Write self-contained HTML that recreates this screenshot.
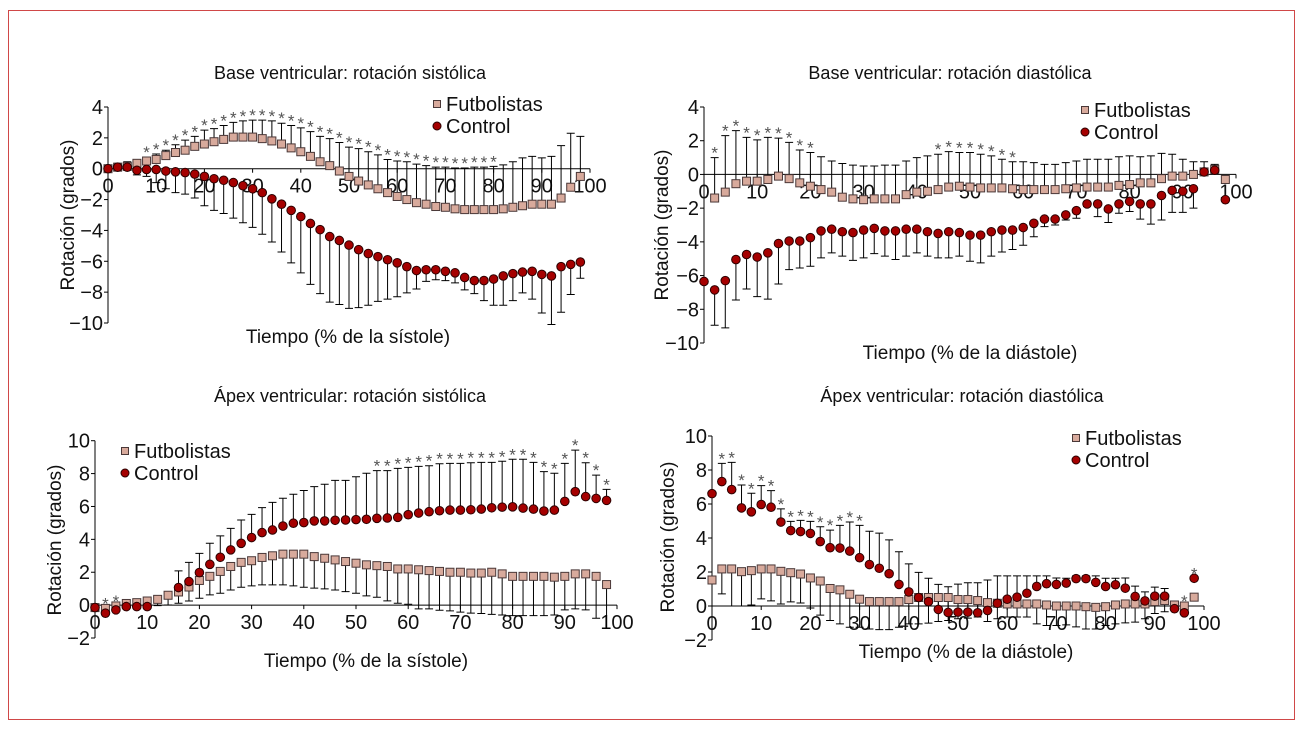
<!DOCTYPE html>
<html><head><meta charset="utf-8">
<style>
html,body{margin:0;padding:0;background:#fff;}
svg{display:block;font-family:"Liberation Sans Narrow","Liberation Sans",sans-serif;}
</style></head>
<body>
<svg id="chart" width="1303" height="730" viewBox="0 0 1303 730">
<rect x="8.5" y="10.5" width="1286" height="709" fill="#fff" stroke="#d04848" stroke-width="1"/>
</svg>
<script>
// shared x categories (% of cycle)
const xCats = [];
for (let i = 0; i < 50; i++) xCats.push(i * 2);
const xTickVals = [0,10,20,30,40,50,60,70,80,90,100];

// Panel 1: Base sistólica
const p1FutMean = [0,0.1,0.15,0.35,0.5,0.6,0.85,1.05,1.2,1.45,1.6,1.75,1.9,2.05,2.05,2.05,1.95,1.8,1.6,1.35,1.1,0.8,0.45,0.2,-0.15,-0.5,-0.8,-1.05,-1.3,-1.55,-1.8,-2.0,-2.2,-2.3,-2.45,-2.5,-2.6,-2.65,-2.65,-2.65,-2.65,-2.6,-2.5,-2.4,-2.3,-2.3,-2.3,-1.9,-1.2,-0.5];
const p1FutErr = [0.2,0.35,0.45,0.5,0.75,0.95,1.2,1.55,1.85,2.1,2.5,2.6,2.8,3.0,3.1,3.15,3.15,3.1,2.95,2.8,2.65,2.4,2.1,1.95,1.7,1.4,1.3,1.1,0.9,0.6,0.5,0.45,0.3,0.2,0.1,0.1,0.05,0.05,0.1,0.1,0.15,0.25,0.45,0.7,0.8,0.7,0.8,1.5,2.3,2.1];
const p1CtlMean = [0,0.1,0.1,-0.1,-0.05,-0.05,-0.15,-0.2,-0.25,-0.35,-0.5,-0.65,-0.75,-0.9,-1.1,-1.3,-1.55,-1.95,-2.3,-2.7,-3.1,-3.55,-3.95,-4.4,-4.65,-4.95,-5.25,-5.5,-5.7,-5.9,-6.1,-6.35,-6.6,-6.55,-6.55,-6.65,-6.75,-7.05,-7.25,-7.25,-7.15,-6.95,-6.8,-6.7,-6.65,-6.85,-6.95,-6.35,-6.2,-6.05];
const p1CtlErr = [null,null,null,-0.4,-0.5,-0.9,-1.3,-1.55,-1.65,-1.9,-2.4,-2.7,-2.9,-3.2,-3.5,-3.8,-4.25,-4.75,-5.4,-6.1,-6.75,-7.5,-8.1,-8.65,-8.8,-9.05,-9.0,-8.85,-8.6,-8.45,-8.3,-8.05,-7.8,-7.3,-7.2,-7.25,-7.4,-7.85,-8.1,-8.55,-8.85,-8.85,-8.55,-8.05,-8.45,-9.35,-10.1,-9.3,-8.15,-7.1];
const p1Stars = [4,5,6,7,8,9,10,11,12,13,14,15,16,17,18,19,20,21,22,23,24,25,26,27,28,29,30,31,32,33,34,35,36,37,38,39,40];
const p1YTicks = [4,2,0,-2,-4,-6,-8,-10];

// Panel 2: Base diastólica
const p2FutMean = [null,-1.4,-1.05,-0.55,-0.4,-0.4,-0.3,-0.1,-0.25,-0.5,-0.7,-0.9,-1.05,-1.35,-1.45,-1.5,-1.45,-1.45,-1.45,-1.2,-1.05,-1.0,-0.9,-0.75,-0.7,-0.75,-0.8,-0.8,-0.8,-0.85,-0.9,-0.9,-0.9,-0.9,-0.85,-0.8,-0.75,-0.75,-0.75,-0.65,-0.6,-0.5,-0.5,-0.25,-0.1,-0.1,0,0.15,0.3,-0.3];
const p2FutErr = [null,1.0,2.3,2.6,2.2,2.05,2.2,2.15,1.9,1.45,1.3,1.05,0.8,0.65,0.55,0.5,0.5,0.55,0.55,0.8,1.0,1.1,1.2,1.35,1.3,1.3,1.2,1.1,0.9,0.75,0.75,0.7,0.6,0.6,0.7,0.8,0.9,0.9,0.9,1.05,1.1,1.05,1.1,1.25,1.2,0.9,0.75,0.75,0.6,null];
const p2CtlMean = [-6.35,-6.85,-6.3,-5.05,-4.75,-4.9,-4.65,-4.1,-3.95,-3.95,-3.75,-3.35,-3.25,-3.4,-3.45,-3.3,-3.2,-3.35,-3.35,-3.25,-3.25,-3.4,-3.5,-3.4,-3.45,-3.6,-3.6,-3.4,-3.3,-3.3,-3.15,-2.9,-2.65,-2.65,-2.4,-2.15,-1.75,-1.75,-2.05,-1.75,-1.6,-1.75,-1.75,-1.25,-0.95,-1.0,-0.85,0.15,0.25,-1.5];
const p2CtlErr = [null,-8.95,-9.1,-7.45,-6.8,-7.25,-7.4,-6.5,-5.65,-5.55,-5.45,-4.95,-4.65,-4.85,-5.1,-4.95,-4.7,-4.85,-5.05,-4.85,-4.65,-4.85,-4.95,-4.95,-4.85,-5.15,-5.25,-4.85,-4.6,-4.45,-4.2,-3.7,-3.1,-3.0,-2.7,-2.6,-1.9,-2.5,-2.85,-2.3,-2.2,-2.65,-2.95,-2.7,-2.25,-2.25,-2.0,null,null,null];
const p2Stars = [1,2,3,4,5,6,7,8,9,10,22,23,24,25,26,27,28,29];
const p2YTicks = [4,2,0,-2,-4,-6,-8,-10];

// Panel 3: Ápex sistólica
const p3FutMean = [-0.15,-0.2,-0.05,0.1,0.15,0.25,0.35,0.6,0.8,1.1,1.5,1.75,2.05,2.35,2.6,2.7,2.9,3.0,3.1,3.1,3.1,2.95,2.85,2.75,2.65,2.55,2.45,2.4,2.35,2.2,2.2,2.15,2.1,2.05,2.0,2.0,1.95,1.95,2.0,1.9,1.75,1.75,1.75,1.75,1.7,1.75,1.9,1.9,1.75,1.25];
const p3FutErr = [null,null,null,null,null,null,-0.03,0.01,0.11,0.25,0.42,0.62,0.72,0.92,1.09,1.17,1.23,1.23,1.23,1.17,1.09,1.03,0.99,0.92,0.82,0.72,0.56,0.48,0.26,0.11,0.05,-0.23,-0.23,-0.31,-0.35,-0.43,-0.49,-0.51,-0.56,-0.6,-0.64,-0.64,-0.64,-0.64,-0.6,-0.29,-0.23,-0.29,-0.8,-1.41];
const p3CtlMean = [-0.15,-0.49,-0.29,-0.09,-0.09,-0.09,null,null,1.07,1.43,1.98,2.48,2.91,3.36,3.76,4.11,4.41,4.57,4.81,4.98,5.02,5.12,5.12,5.16,5.18,5.2,5.22,5.28,5.3,5.34,5.5,5.6,5.68,5.74,5.78,5.78,5.8,5.84,5.92,5.96,5.98,5.9,5.84,5.72,5.78,6.31,6.9,6.6,6.49,6.37];
const p3CtlErr = [null,null,null,null,null,null,null,null,2.08,2.6,3.15,3.76,4.21,4.67,5.18,5.52,5.93,6.25,6.5,6.74,6.97,7.21,7.35,7.59,7.59,7.81,8.02,8.18,8.18,8.32,8.38,8.44,8.48,8.6,8.62,8.62,8.66,8.68,8.68,8.75,8.87,8.87,8.68,8.12,8.02,8.62,9.43,8.66,7.91,7.04];
const p3Stars = [1,2,27,28,29,30,31,32,33,34,35,36,37,38,39,40,41,42,43,44,45,46,47,48,49];
const p3YTicks = [10,8,6,4,2,0,-2];

// Panel 4: Ápex diastólica
const p4FutMean = [1.53,2.18,2.18,2.02,2.08,2.18,2.18,2.04,1.96,1.88,1.65,1.47,1.03,0.95,0.69,0.4,0.26,0.26,0.26,0.26,0.38,0.5,0.5,0.5,0.5,0.38,0.38,0.32,0.2,0.16,0.12,0.12,0.12,0.12,0.06,0,0,0,-0.04,-0.08,-0.04,0.06,0.12,0.12,0.12,0.26,0.32,0.06,0,0.52];
const p4FutErr = [null,0.71,0,0,0.06,0.42,0.3,0.12,0.24,0.18,-0.12,-0.54,-0.85,-1.05,-1.25,-1.25,-1.35,-1.39,-1.39,-1.25,-1.05,-1.05,-1.01,-0.91,-0.85,-0.75,-0.71,-0.65,-0.91,-0.75,-0.65,-0.65,-0.65,-1.05,-1.15,-1.15,-1.11,-1.23,-1.35,-1.35,-1.15,-1.05,-0.99,-0.95,-0.75,-0.44,-0.34,-0.24,-0.04,null];
const p4CtlMean = [6.61,7.32,6.85,5.77,5.54,5.97,5.81,4.94,4.44,4.38,4.27,3.79,3.43,3.41,3.23,2.84,2.44,2.22,1.9,1.27,0.83,0.5,0.26,-0.2,-0.38,-0.36,-0.36,-0.4,-0.26,0.16,0.4,0.52,0.75,1.15,1.31,1.27,1.35,1.61,1.61,1.39,1.15,1.25,1.05,0.56,0.3,0.58,0.58,-0.16,-0.4,1.63];
const p4CtlErr = [null,8.39,8.45,7.12,6.63,7.08,6.79,5.71,4.98,5.04,4.98,4.66,4.46,4.74,4.94,4.74,4.4,4.29,3.89,3.19,2.48,1.98,1.63,1.27,1.13,1.29,1.37,1.37,1.53,1.77,1.77,1.77,1.77,1.77,1.77,1.65,1.63,1.77,1.77,1.77,1.63,1.63,1.65,1.17,0.83,1.11,1.03,null,null,null];
const p4Stars = [1,2,3,4,5,6,7,8,9,10,11,12,13,14,15,48,49];
const p4YTicks = [10,8,6,4,2,0,-2];

const NS = 'http://www.w3.org/2000/svg';
const svg = document.getElementById('chart');
function mk(tag, attrs, parent, txt) {
  const e = document.createElementNS(NS, tag);
  for (const k in attrs) e.setAttribute(k, attrs[k]);
  if (txt !== undefined) e.textContent = txt;
  parent.appendChild(e);
  return e;
}
function fmt(v) { return v < 0 ? '\u2212' + Math.abs(v) : String(v); }

const panels = [
  {id:'base-sistolica', title:'Base ventricular: rotación sistólica', xlabel:'Tiempo (% de la sístole)',
   x0:108, x1:590, vTop:4, yTop:107, vBot:-10, yBot:323, titleX:350, titleY:79, xlabX:348, xlabY:343,
   ylabX:74, ylabY:215, legX:437, legY:104, yTicks:p1YTicks,
   fm:p1FutMean, fe:p1FutErr, cm:p1CtlMean, ce:p1CtlErr, stars:p1Stars},
  {id:'base-diastolica', title:'Base ventricular: rotación diastólica', xlabel:'Tiempo (% de la diástole)',
   x0:704, x1:1236, vTop:4, yTop:107, vBot:-10, yBot:343, titleX:950, titleY:79, xlabX:970, xlabY:359,
   ylabX:668, ylabY:225, legX:1085, legY:110, yTicks:p2YTicks,
   fm:p2FutMean, fe:p2FutErr, cm:p2CtlMean, ce:p2CtlErr, stars:p2Stars},
  {id:'apex-sistolica', title:'Ápex ventricular: rotación sistólica', xlabel:'Tiempo (% de la sístole)',
   x0:95, x1:617, vTop:10, yTop:440.7, vBot:-2, yBot:638, titleX:350, titleY:402, xlabX:366, xlabY:667,
   ylabX:61, ylabY:540, legX:125, legY:451, yTicks:p3YTicks,
   fm:p3FutMean, fe:p3FutErr, cm:p3CtlMean, ce:p3CtlErr, stars:p3Stars},
  {id:'apex-diastolica', title:'Ápex ventricular: rotación diastólica', xlabel:'Tiempo (% de la diástole)',
   x0:712, x1:1204, vTop:10, yTop:436, vBot:-2, yBot:640, titleX:962, titleY:402, xlabX:966, xlabY:658,
   ylabX:674, ylabY:537, legX:1076, legY:438, yTicks:p4YTicks,
   fm:p4FutMean, fe:p4FutErr, cm:p4CtlMean, ce:p4CtlErr, stars:p4Stars}
];

const FUT_FILL = '#d8aa9c', FUT_STROKE = '#4a3838', CTL_FILL = '#a50000', CTL_STROKE = '#2a0000';

panels.forEach(p => {
  const g = mk('g', {}, svg);
  
  
  const X = v => p.x0 + (v / 100) * (p.x1 - p.x0);
  const Y = v => p.yTop + (p.vTop - v) / (p.vTop - p.vBot) * (p.yBot - p.yTop);

  const t = mk('text', {x:p.titleX, y:p.titleY, 'text-anchor':'middle', 'font-size':18, fill:'#111'}, g, p.title);
  
  

  // y axis
  const ya = mk('line', {x1:p.x0, x2:p.x0, y1:Y(p.vTop), y2:Y(p.vBot), stroke:'#000', 'stroke-width':1}, g);
  
  
  p.yTicks.forEach(v => {
    mk('line', {x1:p.x0 - 4, x2:p.x0, y1:Y(v), y2:Y(v), stroke:'#000'}, g);
    const tl = mk('text', {x:p.x0 - 5, y:Y(v) + 7, 'text-anchor':'end', 'font-size':20, fill:'#111'}, g, fmt(v));
    
    
  });
  // x axis
  const xa = mk('line', {x1:p.x0, x2:p.x1, y1:Y(0), y2:Y(0), stroke:'#000', 'stroke-width':1}, g);
  
  
  xTickVals.forEach(v => {
    mk('line', {x1:X(v), x2:X(v), y1:Y(0), y2:Y(0) + 4, stroke:'#000'}, g);
    const tl = mk('text', {x:X(v), y:Y(0) + 24, 'text-anchor':'middle', 'font-size':20, fill:'#111'}, g, String(v));
    
    
  });
  const xl = mk('text', {x:p.xlabX, y:p.xlabY, 'text-anchor':'middle', 'font-size':19, fill:'#111'}, g, p.xlabel);
  
  
  const yl = mk('text', {x:p.ylabX, y:p.ylabY, 'text-anchor':'middle', 'font-size':19, fill:'#111',
    transform:'rotate(-90 ' + p.ylabX + ' ' + p.ylabY + ')'}, g, 'Rotación (grados)');
  
  

  // error bars
  function errBar(i, m, e, name) {
    if (m === null || e === null || e === undefined) return;
    const x = X(xCats[i]);
    const b = mk('path', {d:'M' + x + ' ' + Y(m) + 'V' + Y(e) + 'M' + (x - 4) + ' ' + Y(e) + 'H' + (x + 4),
      stroke:'#000', 'stroke-width':1, fill:'none'}, g);
    
    
  }
  xCats.forEach((c, i) => { errBar(i, p.cm[i], p.ce[i], 'control-error-bar'); errBar(i, p.fm[i], p.fe[i], 'futbolistas-error-bar'); });

  // futbolistas squares
  xCats.forEach((c, i) => {
    if (p.fm[i] === null) return;
    const s = mk('rect', {x:X(c) - 4, y:Y(p.fm[i]) - 4, width:8, height:8, fill:FUT_FILL, stroke:FUT_STROKE, 'stroke-width':1}, g);
    
    
  });
  // control circles
  xCats.forEach((c, i) => {
    if (p.cm[i] === null) return;
    const s = mk('circle', {cx:X(c), cy:Y(p.cm[i]), r:4.3, fill:CTL_FILL, stroke:CTL_STROKE, 'stroke-width':1}, g);
    
    
  });
  // significance stars
  p.stars.forEach(i => {
    const vals = [p.fm[i], p.fe[i], p.cm[i], p.ce[i]].filter(v => v !== null && v !== undefined);
    const top = Math.max.apply(null, vals);
    const s = mk('text', {x:X(xCats[i]), y:Y(top) + 1, 'text-anchor':'middle', 'font-size':17, fill:'#555'}, g, '*');
    
    
  });

  // legend
  const lg = mk('g', {}, g);
  
  
  const l1 = mk('g', {}, lg);
  
  
  mk('rect', {x:p.legX - 3.5, y:p.legY - 3.5, width:7, height:7, fill:FUT_FILL, stroke:FUT_STROKE}, l1);
  mk('text', {x:p.legX + 9, y:p.legY + 7, 'font-size':20, fill:'#111'}, l1, 'Futbolistas');
  const l2 = mk('g', {}, lg);
  
  
  mk('circle', {cx:p.legX, cy:p.legY + 22, r:4, fill:CTL_FILL, stroke:CTL_STROKE}, l2);
  mk('text', {x:p.legX + 9, y:p.legY + 29, 'font-size':20, fill:'#111'}, l2, 'Control');
});
</script>
</body></html>
